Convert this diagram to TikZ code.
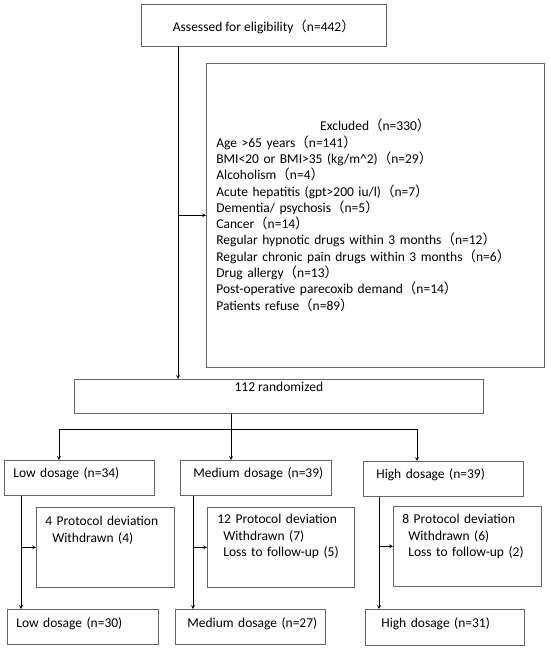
\documentclass[tikz,border=0pt]{standalone}
\usepackage{fontspec}
\setmainfont{Carlito}
\newfontfamily\cjk{Noto Sans CJK SC}
\newcommand{\fwl}{{\cjk （}}
\newcommand{\fwr}{{\cjk ）}}
\definecolor{boxgray}{gray}{0.4}

\begin{document}
\begin{tikzpicture}[x=1pt, y=-1pt, >=stealth, line width=0.7pt,
  font=\fontsize{13.5}{16.3}\selectfont,
  box/.style={draw=boxgray, anchor=north west, inner ysep=0pt, align=left},
  dose/.style={box, inner xsep=3pt, text depth=35pt-#1, text height=#1},
  dose/.default=17.5pt]
\useasboundingbox (0,0) rectangle (550,652);
% screening
\node[box, align=center, minimum width=245pt, inner xsep=0pt, text height=27.5pt, text depth=14.5pt] (elig) at (141,4) {Assessed for eligibility\fwl n=442\fwr};
\node[box, text width=318pt, inner xsep=10pt, text height=67.5pt, text depth=236.5pt] (excl) at (206,63) {\makebox[\linewidth]{Excluded\fwl n=330\fwr}\\
Age >65 years\fwl n=141\fwr\\
BMI<20 or BMI>35 (kg/m\textasciicircum 2)\fwl n=29\fwr\\
Alcoholism\fwl n=4\fwr\\
Acute hepatitis (gpt>200 iu/l)\fwl n=7\fwr\\
Dementia/ psychosis\fwl n=5\fwr\\
Cancer\fwl n=14\fwr\\
Regular hypnotic drugs within 3 months\fwl n=12\fwr\\
Regular chronic pain drugs within 3 months\fwl n=6\fwr\\
Drug allergy\fwl n=13\fwr\\
Post-operative parecoxib demand\fwl n=14\fwr\\
Patients refuse\fwl n=89\fwr};
\node[box, align=center, minimum width=409pt, inner xsep=0pt, text height=12.5pt, text depth=21.5pt] (rand) at (74,379) {112 randomized};
% groups
\node[dose, text width=144pt] (low1) at (4,460) {\hspace*{6pt}Low dosage (n=34)};
\node[dose, text width=145pt] (med1) at (180,460) {\hspace*{10pt}Medium dosage (n=39)};
\node[dose, text width=154pt] (high1) at (363,461) {\hspace*{10pt}High dosage (n=39)};
\node[box, text width=120pt, inner xsep=9pt, text height=18.5pt, text depth=61.5pt] (lowp) at (36,507) {4 Protocol deviation\\\hspace*{7pt}Withdrawn (4)};
\node[box, text width=127pt, inner xsep=10pt, text height=16.5pt, text depth=63.5pt] (medp) at (207,507) {12 Protocol deviation\\\hspace*{6pt}Withdrawn (7)\\\hspace*{6pt}Loss to follow-up (5)};
\node[box, text width=130pt, inner xsep=9pt, text height=17.5pt, text depth=62.5pt] (highp) at (393,506) {8 Protocol deviation\\\hspace*{6pt}Withdrawn (6)\\\hspace*{6pt}Loss to follow-up (2)};
\node[dose=18.5pt, text width=145pt] (low2) at (7,609) {\hspace*{6pt}Low dosage (n=30)};
\node[dose=18.5pt, text width=144pt] (med2) at (175,609) {\hspace*{9pt}Medium dosage (n=27)};
\node[dose=18.5pt, text width=153pt, text depth=17.5pt] (high2) at (365,609) {\hspace*{13pt}High dosage (n=31)};
% connectors
\coordinate (t1) at ([xshift=37pt]elig.south west);
\draw[->] (t1) -- (t1 |- rand.north);
\draw[->] (t1 |- excl.west) -- (excl.west);
\coordinate (s1) at ([xshift=157pt]rand.south west);
\coordinate (split) at (231,429);
\draw (s1) -- (split);
\draw[->] (split) -| ([xshift=55pt]low1.north west);
\draw[->] (split) -- (split |- med1.north);
\draw[->] (split) -| ([xshift=54pt]high1.north west);
\coordinate (lt) at ([xshift=17pt]low1.south west);
\draw[->] (lt) -- (lt |- low2.north);
\draw[->] (lt |- lowp.west) -- (lowp.west);
\coordinate (mt) at ([xshift=13pt]med1.south west);
\draw[->] (mt) -- (mt |- med2.north);
\draw[->] (mt |- medp.west) -- (medp.west);
\coordinate (ht) at ([xshift=16pt]high1.south west);
\draw[->] (ht) -- (ht |- high2.north);
\draw[->] (ht |- highp.west) -- (highp.west);
\end{tikzpicture}
\end{document}
